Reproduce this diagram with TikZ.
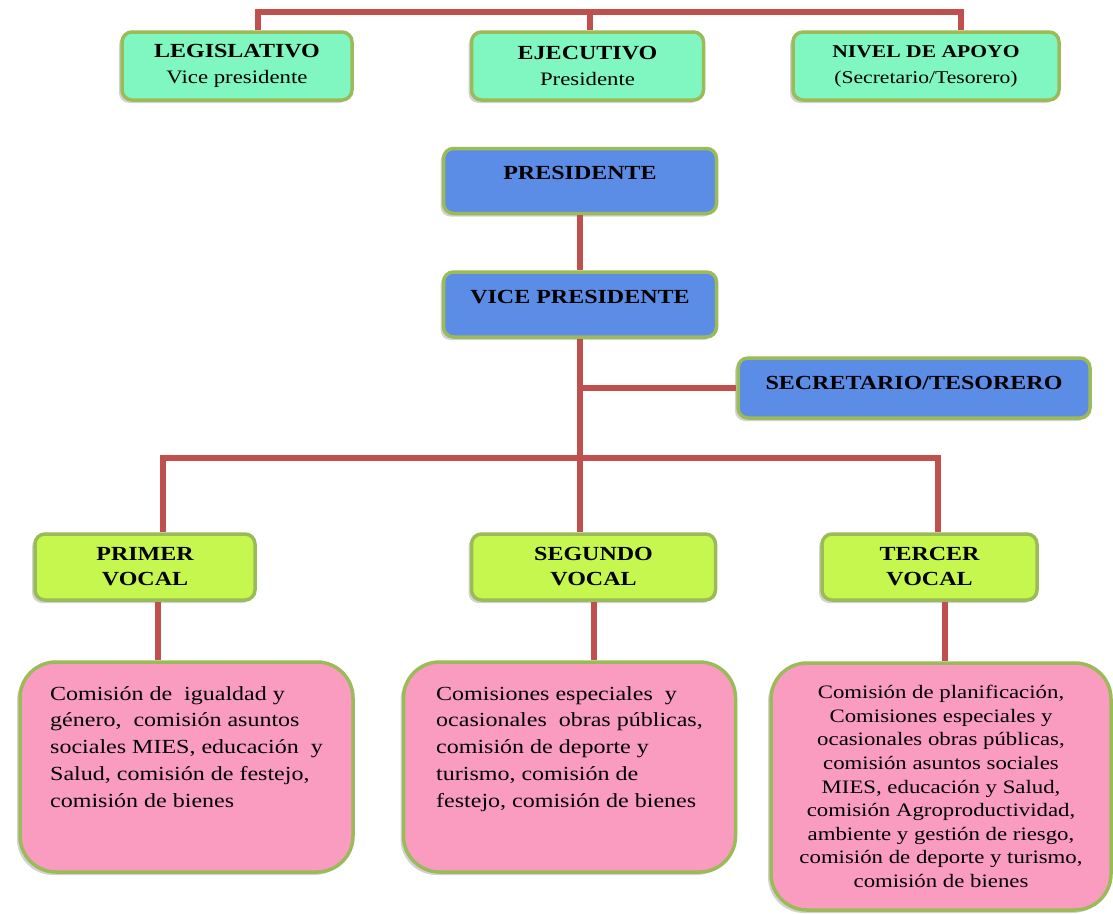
\documentclass[tikz,border=0pt]{standalone}
\usepackage{fontspec}
\setmainfont[FakeStretch=1.2]{Liberation Serif}
\usetikzlibrary{positioning, shadows}
\definecolor{edgegreen}{HTML}{9BBB59}
\definecolor{linkred}{HTML}{C0504D}
\definecolor{mintfill}{HTML}{80F7C0}
\definecolor{bluefill}{HTML}{5B8CE6}
\definecolor{limefill}{HTML}{C6F74F}
\definecolor{pinkfill}{HTML}{F99CC0}

\begin{document}
\begin{tikzpicture}[x=1pt, y=-1pt,
    base/.style={draw=edgegreen, line width=3.5pt, rounded corners=10pt, align=center, inner sep=4pt,
                 drop shadow={shadow xshift=-3pt, shadow yshift=-3pt, opacity=.35}},
    topbox/.style={base, fill=mintfill, minimum height=68pt, font=\fontsize{19}{26}\selectfont},
    bluebox/.style={base, fill=bluefill, minimum width=273pt, minimum height=65pt,
                    font=\fontsize{20}{26}\selectfont\bfseries},
    vocalbox/.style={base, fill=limefill, minimum height=66pt,
                     font=\fontsize{20}{25}\selectfont\bfseries},
    combox/.style={base, fill=pinkfill, rounded corners=36pt},
    link/.style={draw=linkred, line width=6pt}
  ]
  \fill[white] (0,0) rectangle (1113,913);

  % upper level
  \node[topbox, minimum width=230pt] (leg) at (237,66)
    {{\bfseries\fontsize{20}{26}\selectfont LEGISLATIVO}\\ Vice presidente};
  \node[topbox, minimum width=232pt, right=116pt of leg] (eje)
    {{\bfseries\fontsize{20}{26}\selectfont EJECUTIVO}\\ Presidente};
  \node[topbox, minimum width=266pt, right=86pt of eje] (apoyo)
    {{\bfseries\fontsize{18}{26}\selectfont NIVEL DE APOYO}\\ {\fontsize{18}{26}\selectfont (Secretario/Tesorero)}};

  \coordinate (topbar) at (590,12);
  \draw[link] ([xshift=21pt]leg.north) |- (topbar) -| ([xshift=35pt]apoyo.north);
  \draw[link] (topbar) -- (topbar |- eje.north);

  % directiva
  \node[bluebox, text depth=16pt] (pres) at (580,181) {PRESIDENTE};
  \node[bluebox, text depth=16pt, below=55pt of pres] (vice) {VICE PRESIDENTE};
  \node[bluebox, text depth=10pt, minimum width=352pt, minimum height=60pt] (sec) at (914,388) {SECRETARIO/TESORERO};

  \coordinate (split) at (580,458);
  \draw[link] (pres) -- (vice);
  \draw[link] (vice) -- (split);
  \draw[link] (sec.west) -- (sec.west -| split);

  % vocales
  \node[vocalbox, minimum width=220pt] (primer) at (145,567) {PRIMER\\VOCAL};
  \node[vocalbox, minimum width=244pt, right=213pt of primer] (segundo) {SEGUNDO\\VOCAL};
  \node[vocalbox, minimum width=215pt, right=103pt of segundo] (tercer) {TERCER\\VOCAL};

  \draw[link] ([xshift=18pt]primer.north) |- (split) -| ([xshift=8pt]tercer.north);
  \draw[link] (split) -- (split |- segundo.north);

  % comisiones
  \node[combox, minimum width=333pt, minimum height=210pt, align=left,
        font=\fontsize{20}{26.7}\selectfont] (com1) at (186.5,767)
    {Comisión de\ \ igualdad y\\ género,\ \ comisión asuntos\\ sociales MIES, educación\ \ y\\
     Salud, comisión de festejo,\\ comisión de bienes\\[14pt]};
  \node[combox, minimum width=332pt, minimum height=210pt, align=left,
        font=\fontsize{20}{26.7}\selectfont] (com2) at (569.5,767)
    {Comisiones especiales\ \ y\\ ocasionales\ \ obras públicas,\\ comisión de deporte y\\
     turismo, comisión de\\ festejo, comisión de bienes\\[14pt]};
  \node[combox, minimum width=340pt, minimum height=247pt,
        font=\fontsize{19}{23.6}\selectfont] (com3) at (941,786.5)
    {Comisión de planificación,\\ Comisiones especiales y\\ ocasionales obras públicas,\\
     comisión asuntos sociales\\ MIES, educación y Salud,\\ comisión Agroproductividad,\\
     ambiente y gestión de riesgo,\\ comisión de deporte y turismo,\\ comisión de bienes};

  \draw[link] ([xshift=13pt]primer.south) -- ([xshift=13pt]primer.south |- com1.north);
  \draw[link] (segundo.south) -- (segundo.south |- com2.north);
  \draw[link] ([xshift=15pt]tercer.south) -- ([xshift=15pt]tercer.south |- com3.north);
\end{tikzpicture}
\end{document}
